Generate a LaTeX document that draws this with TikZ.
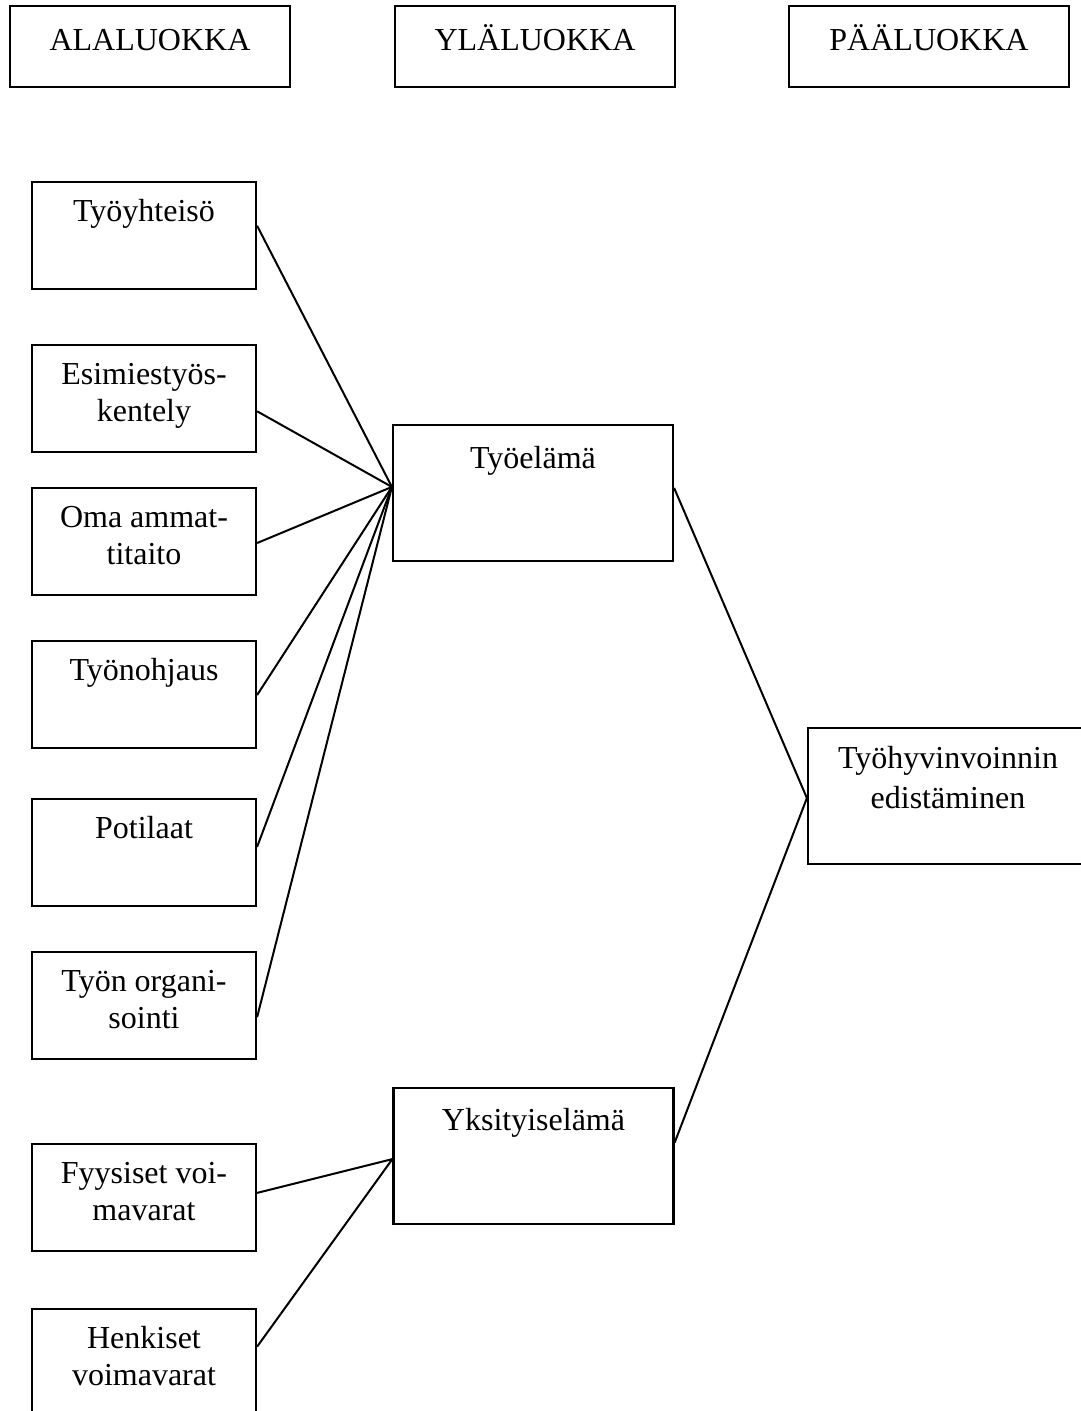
\documentclass[tikz,border=0pt]{standalone}
\usepackage{fontspec}
\setmainfont{Liberation Serif}
\usetikzlibrary{calc}
\begin{document}
\begin{tikzpicture}[x=1pt,y=-1pt,
  box/.style={draw,line width=2.2pt,rectangle,inner sep=0pt},
  hbox/.style={box,minimum width=280pt,minimum height=81pt},
  lbox/.style={box,minimum width=224pt,minimum height=107pt},
  mbox/.style={box,minimum width=280pt,minimum height=136pt},
  txt/.style={anchor=base,align=center,inner sep=0pt,font=\fontsize{32}{37}\selectfont},
  conn/.style={line width=2pt}]
\useasboundingbox (0,0) rectangle (1081,1411);
% headers
\node[hbox] (h1) at (150,46.5) {};
\node[hbox] (h2) at (535,46.5) {};
\node[hbox] (h3) at (929,46.5) {};
\node[txt] (h1t) at ($(h1.north)+(0,46)$) {ALALUOKKA};
\node[txt] (h2t) at ($(h2.north)+(0,46)$) {YLÄLUOKKA};
\node[txt] (h3t) at ($(h3.north)+(0,46)$) {PÄÄLUOKKA};
% left boxes
\node[lbox] (b1) at (144,235.5) {};
\node[lbox] (b2) at (144,398.5) {};
\node[lbox] (b3) at (144,541.5) {};
\node[lbox] (b4) at (144,694.5) {};
\node[lbox] (b5) at (144,852.5) {};
\node[lbox] (b6) at (144,1005.5) {};
\node[lbox] (b7) at (144,1197.5) {};
\node[lbox] (b8) at (144,1362.5) {};
\node[txt] (b1t) at ($(b1.north)+(0,41)$) {Työyhteisö};
\node[txt] (b2t) at ($(b2.north)+(0,78)$) {Esimiestyös-\\kentely};
\node[txt] (b3t) at ($(b3.north)+(0,78)$) {Oma ammat-\\titaito};
\node[txt] (b4t) at ($(b4.north)+(0,41)$) {Työnohjaus};
\node[txt] (b5t) at ($(b5.north)+(0,41)$) {Potilaat};
\node[txt] (b6t) at ($(b6.north)+(0,78)$) {Työn organi-\\sointi};
\node[txt] (b7t) at ($(b7.north)+(0,78)$) {Fyysiset voi-\\mavarat};
\node[txt] (b8t) at ($(b8.north)+(0,78)$) {Henkiset\\voimavarat};
% middle boxes
\node[mbox] (m1) at (533,493) {};
\node[mbox] (m2) at (533.5,1156) {};
\node[txt] (m1t) at ($(m1.north)+(0,45)$) {Työelämä};
\node[txt] (m2t) at ($(m2.north)+(0,44)$) {Yksityiselämä};
% right box
\node[mbox] (r) at (948,796) {};
\node[txt] (rt) at ($(r.north)+(0,82)$) {Työhyvinvoinnin\\[3pt]edistäminen};
% connection points
\coordinate (m1in) at ($(m1.north west)!0.456!(m1.south west)$);
\coordinate (m2in) at ($(m2.north west)!0.522!(m2.south west)$);
\coordinate (rin) at ($(r.north west)!0.515!(r.south west)$);
\draw[conn] ($(b1.north east)!0.411!(b1.south east)$) -- (m1in);
\draw[conn] ($(b2.north east)!0.617!(b2.south east)$) -- (m1in);
\draw[conn] ($(b3.north east)!0.514!(b3.south east)$) -- (m1in);
\draw[conn] ($(b4.north east)!0.505!(b4.south east)$) -- (m1in);
\draw[conn] ($(b5.north east)!0.449!(b5.south east)$) -- (m1in);
\draw[conn] ($(b6.north east)!0.607!(b6.south east)$) -- (m1in);
\draw[conn] ($(b7.north east)!0.458!(b7.south east)$) -- (m2in);
\draw[conn] ($(b8.north east)!0.355!(b8.south east)$) -- (m2in);
\draw[conn] ($(m1.north east)!0.463!(m1.south east)$) -- (rin);
\draw[conn] ($(m2.north east)!0.404!(m2.south east)$) -- (rin);
\end{tikzpicture}
\end{document}
